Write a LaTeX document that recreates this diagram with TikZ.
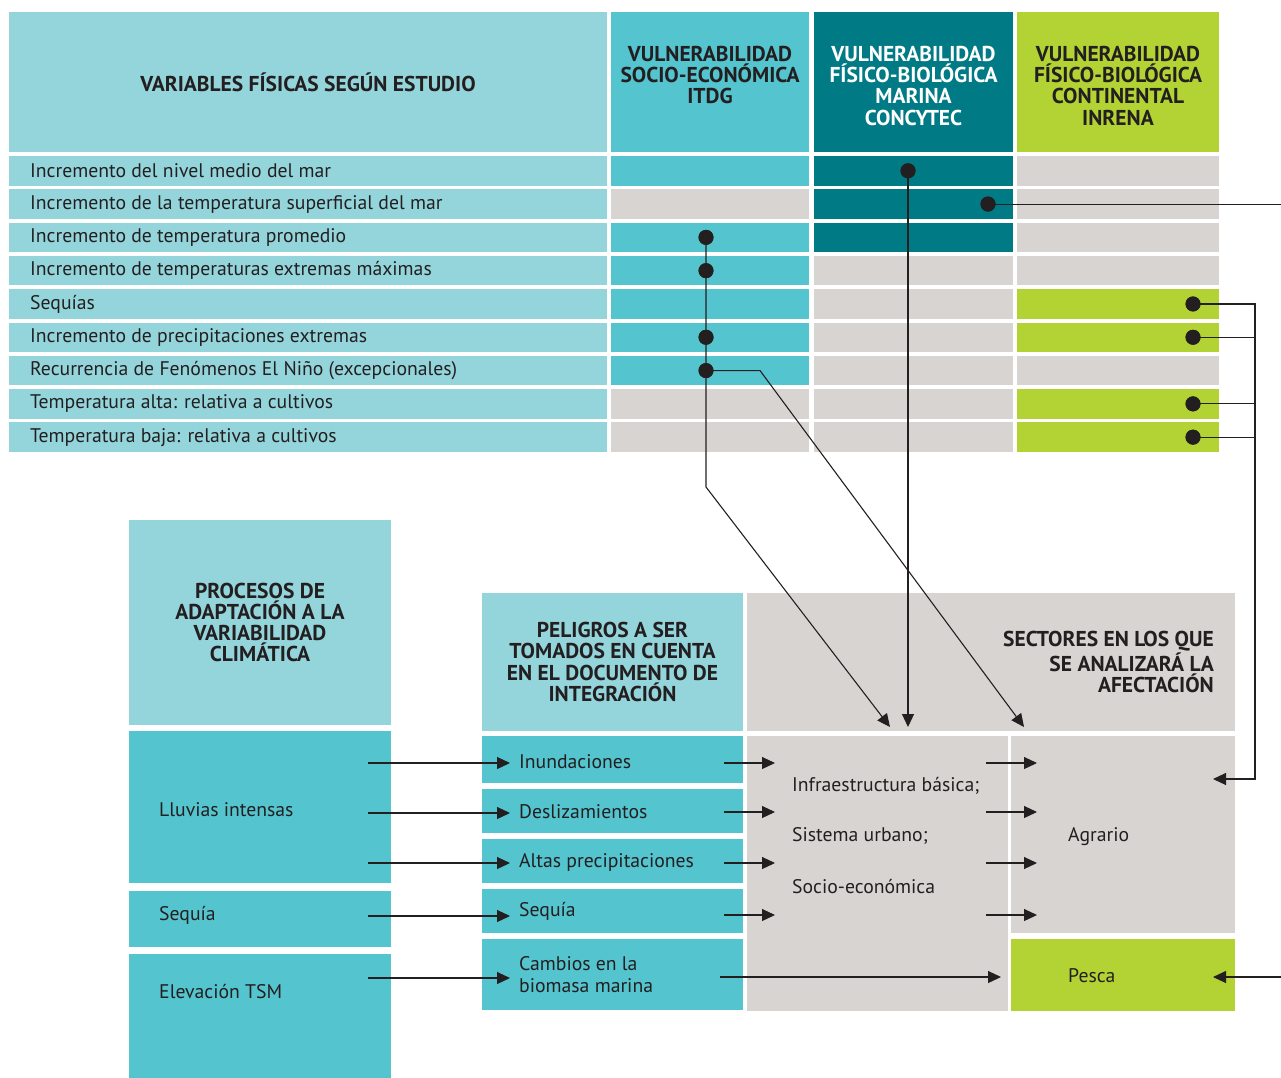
\documentclass[tikz,border=0pt]{standalone}
\usepackage{fontspec}
\setmainfont{PT Sans}
\usetikzlibrary{arrows.meta}
\definecolor{lteal}{HTML}{94D5DC}
\definecolor{mteal}{HTML}{54C4CF}
\definecolor{dteal}{HTML}{007A84}
\definecolor{lgreen}{HTML}{B3D334}
\definecolor{lgray}{HTML}{D8D4D1}
\definecolor{ink}{HTML}{231F20}
\newcommand{\hdrfont}{\bfseries\fontsize{21.5}{21.2}\selectfont}
\newcommand{\bodyfont}{\fontsize{19.7}{22}\selectfont}
\begin{document}
\begin{tikzpicture}[x=1pt,y=-1pt,
  cell/.style={inner sep=0pt, outer sep=0pt, anchor=north west},
  hdr/.style={font=\hdrfont, align=center, text=ink, inner sep=0pt},
  body/.style={font=\bodyfont, text=ink, inner sep=0pt, anchor=west, align=left},
  dotn/.style={circle, fill=ink, inner sep=0pt, minimum size=15pt},
  conn/.style={draw=ink, line width=1.1pt},
  arr/.style={conn, -{Triangle[length=13pt,width=12pt]}},
]
\useasboundingbox (0,0) rectangle (1281,1077);

% ---- top header
\node[cell, fill=lteal, minimum width=598pt, minimum height=140pt] (hv) at (9,12) {};
\node[hdr] at (hv.center) {VARIABLES FÍSICAS SEGÚN ESTUDIO};
\node[cell, fill=mteal, minimum width=198pt, minimum height=140pt] (h2) at (611,12) {};
\node[hdr, anchor=north] at (710,46) {VULNERABILIDAD\\SOCIO-ECONÓMICA\\ITDG};
\node[cell, fill=dteal, minimum width=199pt, minimum height=140pt] (h3) at (814,12) {};
\node[hdr, anchor=north, text=white] at (913.5,46) {VULNERABILIDAD\\FÍSICO-BIOLÓGICA\\MARINA\\CONCYTEC};
\node[cell, fill=lgreen, minimum width=202pt, minimum height=140pt] (h4) at (1017,12) {};
\node[hdr, anchor=north] at (1118,46) {VULNERABILIDAD\\FÍSICO-BIOLÓGICA\\CONTINENTAL\\INRENA};

% ---- table rows
\foreach \lab/\ca/\cb/\cc [count=\i] in {
  {Incremento del nivel medio del mar}/mteal/dteal/lgray,
  {Incremento de la temperatura superficial del mar}/lgray/dteal/lgray,
  {Incremento de temperatura promedio}/mteal/dteal/lgray,
  {Incremento de temperaturas extremas máximas}/mteal/lgray/lgray,
  {Sequías}/mteal/lgray/lgreen,
  {Incremento de precipitaciones extremas}/mteal/lgray/lgreen,
  {Recurrencia de Fenómenos El Niño (excepcionales)}/mteal/lgray/lgray,
  {Temperatura alta: relativa a cultivos}/lgray/lgray/lgreen,
  {Temperatura baja: relativa a cultivos}/lgray/lgray/lgreen}
{
  \pgfmathsetmacro\yt{156+33.3*(\i-1)}
  \node[cell, fill=lteal, minimum width=598pt, minimum height=29.5pt] (r\i-1) at (9,\yt) {};
  \node[body] (t\i) at (30,\yt+14.75) {\lab};
  \node[cell, fill=\ca, minimum width=198pt, minimum height=29.5pt] (r\i-2) at (611,\yt) {};
  \node[cell, fill=\cb, minimum width=199pt, minimum height=29.5pt] (r\i-3) at (814,\yt) {};
  \node[cell, fill=\cc, minimum width=202pt, minimum height=29.5pt] (r\i-4) at (1017,\yt) {};
}

% ---- bottom blocks
\node[cell, fill=lteal, minimum width=262pt, minimum height=205pt] (pa) at (129,520) {};
\node[hdr] at (pa.center) {PROCESOS DE\\ADAPTACIÓN A LA\\VARIABILIDAD\\CLIMÁTICA};
\node[cell, fill=mteal, minimum width=262pt, minimum height=152pt] (ll) at (129,731) {};
\node[body] at (159,810) {Lluvias intensas};
\node[cell, fill=mteal, minimum width=262pt, minimum height=56pt] (sl) at (129,891) {};
\node[body] at (159,915) {Sequía};
\node[cell, fill=mteal, minimum width=262pt, minimum height=125pt] (el) at (129,954) {};
\node[body] at (159,992) {Elevación TSM};

\node[cell, fill=lteal, minimum width=261pt, minimum height=138pt] (ph) at (482,593) {};
\node[hdr] at (ph.center) {PELIGROS A SER\\TOMADOS EN CUENTA\\EN EL DOCUMENTO DE\\INTEGRACIÓN};
\node[cell, fill=mteal, minimum width=261pt, minimum height=47pt] (p1) at (482,736) {};
\node[body] at (519,762) {Inundaciones};
\node[cell, fill=mteal, minimum width=261pt, minimum height=44pt] (p2) at (482,789) {};
\node[body] at (519,812) {Deslizamientos};
\node[cell, fill=mteal, minimum width=261pt, minimum height=44pt] (p3) at (482,839) {};
\node[body] at (519,862) {Altas precipitaciones};
\node[cell, fill=mteal, minimum width=261pt, minimum height=44pt] (p4) at (482,889) {};
\node[body] at (519,911) {Sequía};
\node[cell, fill=mteal, minimum width=261pt, minimum height=71pt] (p5) at (482,939) {};
\node[body] at (519,975) {Cambios en la\\biomasa marina};

\node[cell, fill=lgray, minimum width=488pt, minimum height=138pt] (sh) at (747,593) {};
\node[hdr, anchor=east, align=right] at (1214,662) {SECTORES EN LOS QUE\\SE ANALIZARÁ LA\\AFECTACIÓN};
\node[cell, fill=lgray, minimum width=261pt, minimum height=275pt] (ib) at (747,736) {};
\node[body] at (792,786) {Infraestructura básica;};
\node[body] at (792,836) {Sistema urbano;};
\node[body] at (792,887) {Socio-económica};
\node[cell, fill=lgray, minimum width=224pt, minimum height=197pt] (ag) at (1011,736) {};
\node[body] at (1068,837) {Agrario};
\node[cell, fill=lgreen, minimum width=224pt, minimum height=72pt] (pe) at (1011,939) {};
\node[body] at (1068,976) {Pesca};

% ---- dots
\node[dotn] (d1) at (908,170.75) {};
\node[dotn] (d2) at (988,204.05) {};
\node[dotn] (d3) at (706,237.35) {};
\node[dotn] (d4) at (706,270.65) {};
\node[dotn] (d6) at (706,337.25) {};
\node[dotn] (d7) at (706,370.55) {};
\node[dotn] (g5) at (1193,303.95) {};
\node[dotn] (g6) at (1193,337.25) {};
\node[dotn] (g8) at (1193,403.85) {};
\node[dotn] (g9) at (1193,437.15) {};

% ---- connector points
\coordinate (b1) at (706,487);
\coordinate (b2) at (760,370.55);
\coordinate (t1) at (890,727);
\coordinate (t2) at (908,727);
\coordinate (t3) at (1024,727);
\coordinate (e1) at (1281,204.05);
\coordinate (e2) at (1281,977);
\coordinate (pt) at (1213,977);
\coordinate (v5) at (1255,303.95);
\coordinate (v6) at (1255,337.25);
\coordinate (v8) at (1255,403.85);
\coordinate (v9) at (1255,437.15);
\coordinate (vb) at (1255,779);
\coordinate (at) at (1213,779);

\draw[arr] (d3.center) -- (b1) -- (t1);
\draw[arr] (d7.center) -- (b2) -- (t3);
\draw[arr] (d1.center) -- (t2);
\draw[conn] (d2.center) -- (e1);
\draw[arr] (g5.center) -- (v5) -- (vb) -- (at);
\draw[conn] (g6.center) -- (v6);
\draw[conn] (g8.center) -- (v8);
\draw[conn] (g9.center) -- (v9);
\draw[arr] (e2) -- (pt);

% ---- bottom arrows
\foreach \y [count=\k] in {763,813,863,916,978}{
  \coordinate (ls\k) at (368,\y);
  \coordinate (le\k) at (510,\y);
  \draw[arr] (ls\k) -- (le\k);
}
\foreach \y [count=\k] in {763,812,863,915}{
  \coordinate (ms\k) at (724,\y);
  \coordinate (me\k) at (775,\y);
  \draw[arr] (ms\k) -- (me\k);
  \coordinate (rs\k) at (986,\y);
  \coordinate (re\k) at (1037,\y);
  \draw[arr] (rs\k) -- (re\k);
}
\coordinate (bs) at (720,977);
\coordinate (be) at (1001,977);
\draw[arr] (bs) -- (be);

% redraw dots on top
\foreach \d in {d1,d2,d3,d4,d6,d7,g5,g6,g8,g9}{\fill[ink] (\d) circle (7.5pt);}
\end{tikzpicture}
\end{document}
